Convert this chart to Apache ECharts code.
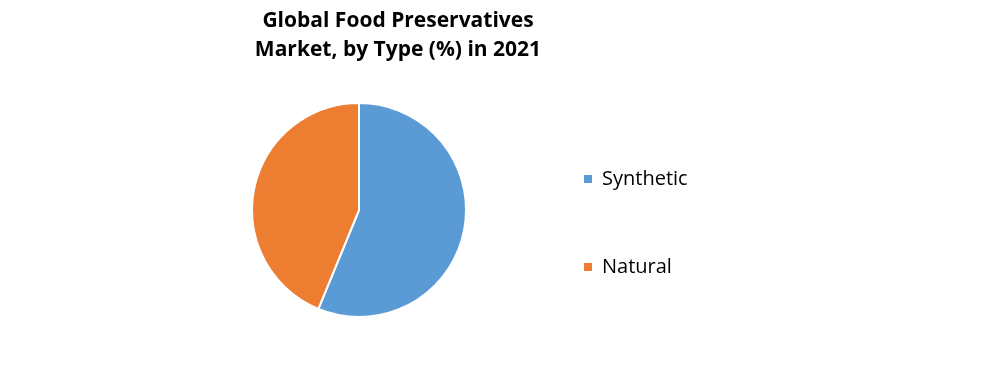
<!DOCTYPE html>
<html><head><meta charset="utf-8">
<script src="https://cdn.jsdelivr.net/npm/echarts@6/dist/echarts.min.js"></script>
<style>html,body{margin:0;padding:0;background:#fff}#c{width:994px;height:368px}</style>
</head><body><div id="c"></div>
<script>
const titleText = 'Global Food Preservatives\nMarket, by Type (%) in 2021';
const categories = ['Synthetic', 'Natural'];
const values = [56.2, 43.8];
const colors = ['#5B9BD5', '#ED7D31'];

const chart = echarts.init(document.getElementById('c'));
chart.setOption({
  backgroundColor: '#fff',
  animation: false,
  title: {
    text: titleText,
    left: 393, top: 2, textAlign: 'center',
    textStyle: { fontFamily: 'Open Sans', fontWeight: 'bold', fontSize: 21, lineHeight: 29, color: '#000' }
  },
  legend: {
    orient: 'vertical',
    left: 577, top: 164,
    itemWidth: 10, itemHeight: 10, itemGap: 68,
    icon: 'rect',
    textStyle: { fontFamily: 'Open Sans', fontSize: 20, color: '#000', padding: [0, 0, 0, 4] },
    data: categories
  },
  series: [{
    type: 'pie',
    center: [359, 210],
    radius: 107,
    startAngle: 90,
    clockwise: true,
    label: { show: false },
    labelLine: { show: false },
    itemStyle: { borderColor: '#fff', borderWidth: 2 },
    data: categories.map((c, i) => ({ name: c, value: values[i], itemStyle: { color: colors[i] } }))
  }]
});
</script></body></html>
